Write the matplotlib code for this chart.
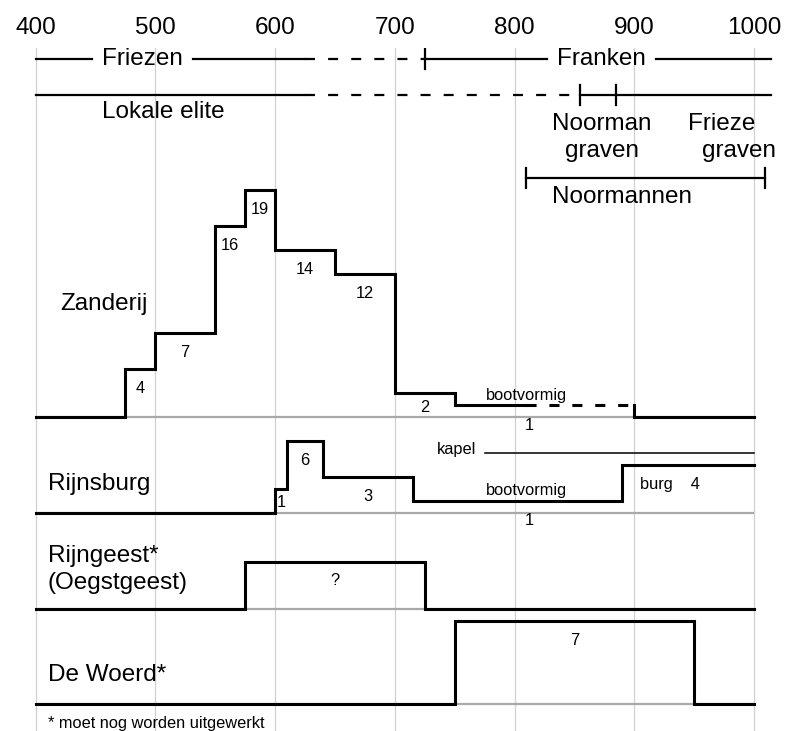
#!/usr/bin/env python

"""
Tijdbalk: bewoning en huizen per nederzetting, 400 - 1000 n.Chr.
"""

import numpy as np
import matplotlib
matplotlib.use("Agg")
import matplotlib.pyplot as plt

#%% data
years = [400, 500, 600, 700, 800, 900, 1000]

# top time lines (start, end); dashed = uncertain part
friezen = (400, 725)
friezen_sure_until = 625
franken = (725, 1014)
elite = (400, 855)
elite_sure_until = 625
noorman_graven = (855, 885)
frieze_graven = (885, 1014)
noormannen = (810, 1009)

# number of houses per period
zanderij_edges = [400, 475, 500, 550, 575, 600, 650, 700, 750, 900, 1000]
zanderij_counts = [0, 4, 7, 16, 19, 14, 12, 2, 1, 0]
zanderij_labels = ["", "4", "7", "16", "19", "14", "12", "2", "1", ""]
zanderij_uncertain = (810, 900)
zanderij_boat = 8          # segment with the boat shaped house

rijnsburg_edges = [400, 600, 610, 640, 715, 890, 1000]
rijnsburg_counts = [0, 2, 6, 3, 1, 4]
rijnsburg_labels = ["", "1", "6", "3", "1", "burg    4"]
rijnsburg_boat = 4
kapel_period = (775, 1000)
kapel_level = 5

rijngeest_edges = [400, 575, 725, 1000]
rijngeest_counts = [0, 4, 0]
rijngeest_labels = ["", "?", ""]

woerd_edges = [400, 750, 950, 1000]
woerd_counts = [0, 7, 0]
woerd_labels = ["", "7", ""]

#%% layout
FIG_W, FIG_H = 788, 731
UNIT = 11.93        # pixels per house
AX_TOP = 48
BIG, SMALL = 17.5, 11.8
TL_LW, STEP_LW = 1.6, 2.2


def ypos(px):
    """pixel row (from top) -> data y"""
    return (FIG_H - px) / UNIT


def stair(ax, edges, counts, base, dashed=None):
    xs, ys = [], []
    for x0, x1, c in zip(edges[:-1], edges[1:], counts):
        xs += [x0, x1]
        ys += [base + c, base + c]
    kw = dict(color="k", lw=STEP_LW, solid_joinstyle="miter", zorder=3)
    if dashed is None:
        ax.plot(xs, ys, **kw)
        return
    a, b = dashed
    k = int(np.searchsorted(edges, a, side="right")) - 1
    y = ys[2 * k]
    ax.plot(xs[:2 * k + 1] + [a], ys[:2 * k + 1] + [y], **kw)
    ax.plot([a, b], [y, y], color="k", lw=STEP_LW, dashes=(3.3, 4.2), zorder=3)
    ax.plot([b] + xs[2 * k + 1:], [y] + ys[2 * k + 1:], **kw)


def stair_labels(ax, edges, counts, labels, base, boat=None):
    for i, (x0, x1, c, lab) in enumerate(zip(edges[:-1], edges[1:], counts, labels)):
        if not lab:
            continue
        if i == boat:
            ax.text(810, base + 1.45, "bootvormig", ha="center", va="baseline", fontsize=SMALL)
            ax.text(812, base - 1.06, lab, ha="center", va="baseline", fontsize=SMALL)
            continue
        xm = (x0 + x1) / 2
        if lab.startswith("burg"):
            xm -= 15
        ax.text(xm, base + max(c - 2.0, 0.45), lab, ha="center", va="baseline", fontsize=SMALL)


plt.rcParams["font.family"] = ["Liberation Sans", "DejaVu Sans"]

fig = plt.figure(figsize=(FIG_W / 100, FIG_H / 100), dpi=100)
ax = fig.add_axes([0, 0, 1, (FIG_H - AX_TOP) / FIG_H])
ax.set_xlim(400 - 35.5 / 1.1975, 400 + (FIG_W - 35.5) / 1.1975)
ax.set_ylim(0, ypos(AX_TOP))
for s in ax.spines.values():
    s.set_visible(False)
ax.set_yticks([])
ax.set_xticks(years)
ax.xaxis.tick_top()
ax.tick_params(axis="x", length=0, pad=6.4, labelsize=BIG)
ax.grid(axis="x", color="#d0d0d0", lw=0.9)
ax.set_axisbelow(True)

renderer = fig.canvas.get_renderer()


def text_gap(t, pad_px=10):
    bb = t.get_window_extent(renderer)
    inv = ax.transData.inverted()
    return inv.transform((bb.x0 - pad_px, 0))[0], inv.transform((bb.x1 + pad_px, 0))[0]


def tl(x0, x1, y, dashed=False):
    kw = dict(color="k", lw=TL_LW, zorder=3)
    if dashed:
        kw["dashes"] = (4.5, 5.9)
    ax.plot([x0, x1], [y, y], **kw)


def tick(x, y, half=0.84):
    ax.plot([x, x], [y - half, y + half], color="k", lw=TL_LW, zorder=3)


#%% top time lines
y_fr = ypos(59.3)
t = ax.text(489.6, ypos(65), "Friezen", ha="center", va="baseline", fontsize=BIG)
g0, g1 = text_gap(t)
tl(friezen[0], g0, y_fr)
tl(g1, friezen_sure_until, y_fr)
tl(friezen_sure_until, friezen[1], y_fr, dashed=True)
t = ax.text(872.8, ypos(65), "Franken", ha="center", va="baseline", fontsize=BIG)
g0, g1 = text_gap(t)
tl(franken[0], g0, y_fr)
tl(g1, franken[1], y_fr)
tick(franken[0], y_fr)

y_el = ypos(94.7)
tl(elite[0], elite_sure_until, y_el)
tl(elite_sure_until, elite[1] - 5, y_el, dashed=True)
tl(noorman_graven[0], frieze_graven[1], y_el)
tick(noorman_graven[0], y_el)
tick(frieze_graven[0], y_el)
ax.text(455.5, ypos(118.3), "Lokale elite", ha="left", va="baseline", fontsize=BIG)
ax.text(872.6, ypos(130), "Noorman", ha="center", va="baseline", fontsize=BIG)
ax.text(872.8, ypos(156.7), "graven", ha="center", va="baseline", fontsize=BIG)
ax.text(973.3, ypos(130), "Frieze", ha="center", va="baseline", fontsize=BIG)
ax.text(987.5, ypos(156.7), "graven", ha="center", va="baseline", fontsize=BIG)

y_no = ypos(178.3)
tl(noormannen[0], noormannen[1], y_no)
tick(noormannen[0], y_no)
tick(noormannen[1], y_no)
ax.text(889.8, ypos(202.7), "Noormannen", ha="center", va="baseline", fontsize=BIG)

#%% settlements
bases = [ypos(417), ypos(512.7), ypos(609.3), ypos(704.3)]
ax.hlines(bases, years[0], years[-1], color="#a9a9a9", lw=1.6, zorder=2)

b = bases[0]
stair(ax, zanderij_edges, zanderij_counts, b, dashed=zanderij_uncertain)
stair_labels(ax, zanderij_edges, zanderij_counts, zanderij_labels, b, boat=zanderij_boat)
ax.text(420.4, ypos(310), "Zanderij", ha="left", va="baseline", fontsize=BIG)

b = bases[1]
stair(ax, rijnsburg_edges, rijnsburg_counts, b)
stair_labels(ax, rijnsburg_edges, rijnsburg_counts, rijnsburg_labels, b, boat=rijnsburg_boat)
ax.plot(kapel_period, [b + kapel_level] * 2, color="k", lw=1.1, zorder=3)
ax.text(kapel_period[0] - 7, b + kapel_level - 0.08, "kapel", ha="right", va="baseline", fontsize=SMALL)
ax.text(410.4, ypos(490), "Rijnsburg", ha="left", va="baseline", fontsize=BIG)

b = bases[2]
stair(ax, rijngeest_edges, rijngeest_counts, b)
stair_labels(ax, rijngeest_edges, rijngeest_counts, rijngeest_labels, b)
ax.text(410.4, ypos(561.7), "Rijngeest*", ha="left", va="baseline", fontsize=BIG)
ax.text(410.4, ypos(589.3), "(Oegstgeest)", ha="left", va="baseline", fontsize=BIG)

b = bases[3]
stair(ax, woerd_edges, woerd_counts, b)
stair_labels(ax, woerd_edges, woerd_counts, woerd_labels, b)
ax.text(410.4, ypos(680.7), "De Woerd*", ha="left", va="baseline", fontsize=BIG)

ax.text(410.4, ypos(728.3), "* moet nog worden uitgewerkt", ha="left", va="baseline", fontsize=SMALL)

fig.savefig("out.png", dpi=100)
